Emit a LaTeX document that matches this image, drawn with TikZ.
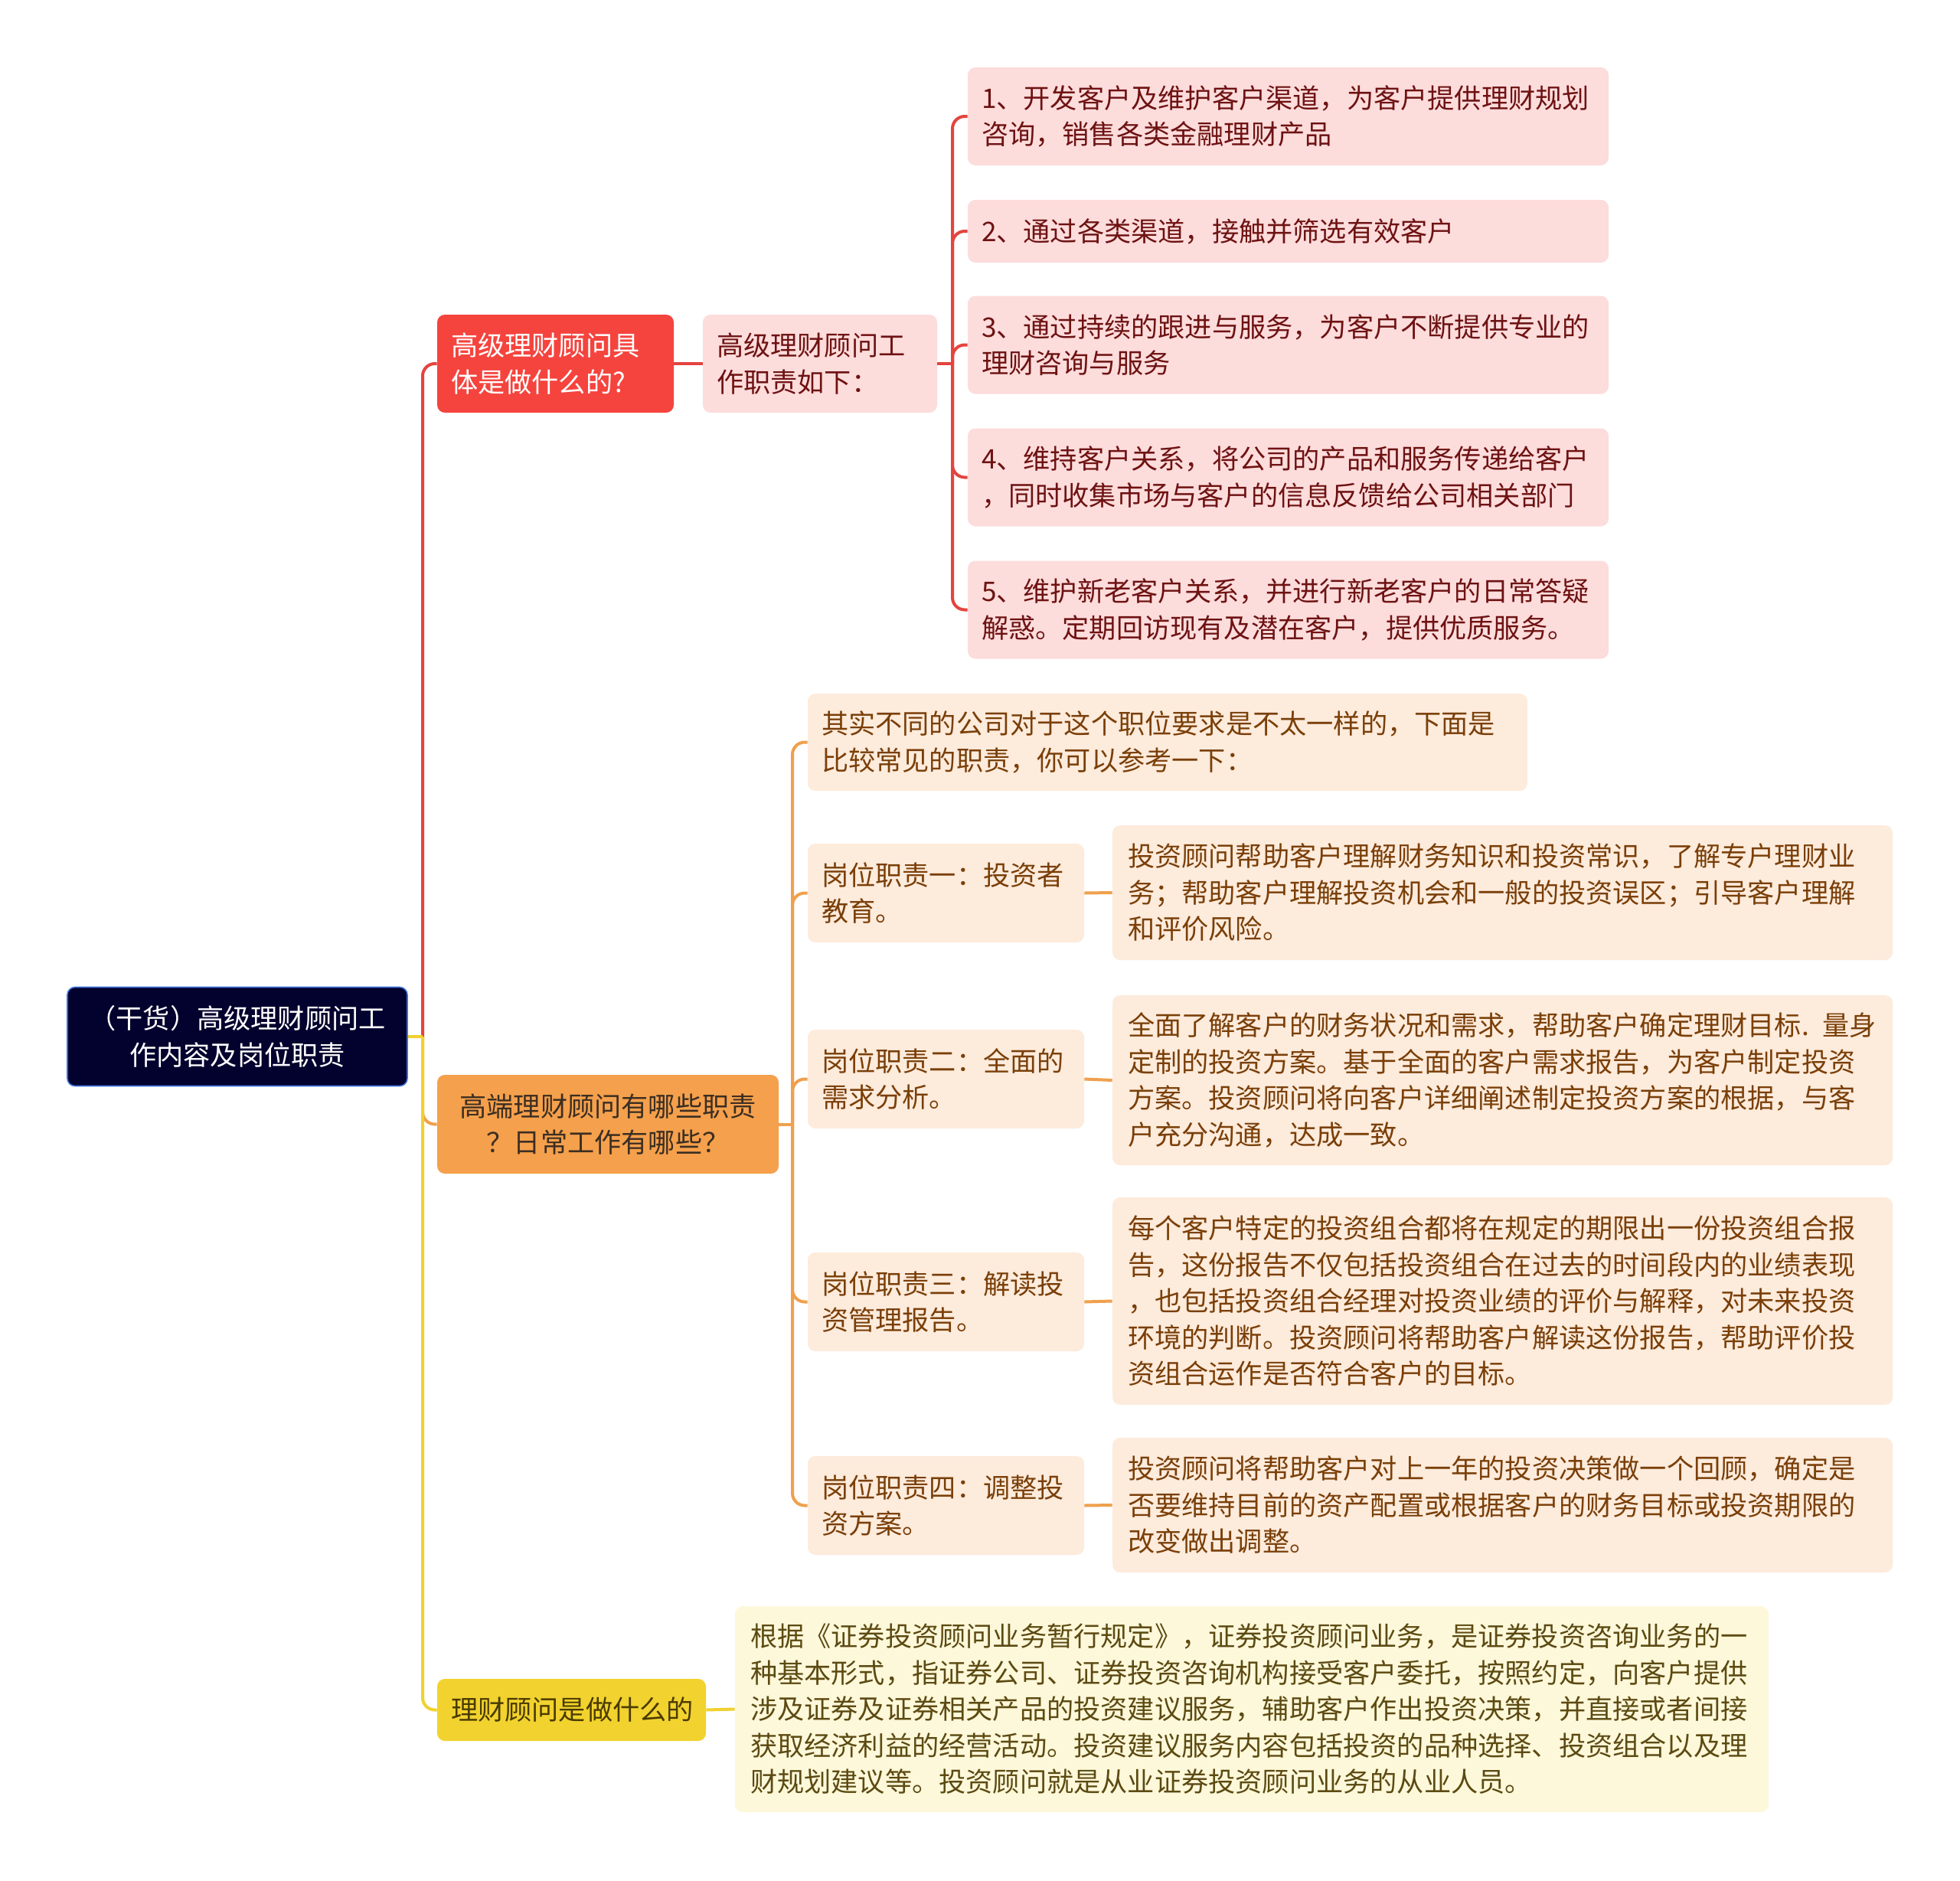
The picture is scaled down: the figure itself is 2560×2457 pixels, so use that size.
\documentclass[tikz,border=0pt]{standalone}
\usepackage{fontspec}
\newfontfamily\cjk{Noto Sans CJK SC}
\usetikzlibrary{positioning}
\definecolor{gyokkek}{HTML}{03022E}
\definecolor{gyokkeret}{HTML}{3B6FD6}
\definecolor{piros}{HTML}{F5443E}
\definecolor{pirosvonal}{HTML}{E4443F}
\definecolor{rozsa}{HTML}{FDDCDC}
\definecolor{rozsaszoveg}{HTML}{6E1212}
\definecolor{narancs}{HTML}{F5A04C}
\definecolor{narancsvonal}{HTML}{EFA04E}
\definecolor{narancsszoveg}{HTML}{3B2E22}
\definecolor{barack}{HTML}{FDEBDC}
\definecolor{barackszoveg}{HTML}{7A3F08}
\definecolor{sarga}{HTML}{F2D22E}
\definecolor{sargavonal}{HTML}{F0D12E}
\definecolor{sargaszoveg}{HTML}{4A3B00}
\definecolor{vaj}{HTML}{FDF8DA}
\definecolor{vajszoveg}{HTML}{5C4A12}
\tikzset{
  dob/.style={rounded corners=5pt,inner xsep=9pt,inner ysep=0pt,align=left,
    font=\cjk\fontsize{17.6}{23.75}\selectfont},
  gyok/.style={dob,fill=gyokkek,draw=gyokkeret,line width=0.8pt,text=white,align=center},
  fej/.style={dob,fill=piros,text=white},
  rozs/.style={dob,fill=rozsa,text=rozsaszoveg},
  nar/.style={dob,fill=narancs,text=narancsszoveg,align=center},
  bar/.style={dob,fill=barack,text=barackszoveg},
  sar/.style={dob,fill=sarga,text=sargaszoveg},
  vaj/.style={dob,fill=vaj,text=vajszoveg,inner xsep=10pt},
  pv/.style={line width=2pt,draw=pirosvonal,rounded corners=8pt},
  nv/.style={line width=2pt,draw=narancsvonal,rounded corners=8pt},
  sv/.style={line width=2pt,draw=sargavonal,rounded corners=8pt},
}
\begin{document}
\begin{tikzpicture}[x=0.5pt,y=-0.5pt]
  \useasboundingbox (0,0) rectangle (2560,2457);
  \fill[white] (0,0) rectangle (2560,2457);
  % gyoker es fo agak
  \node[gyok,text width=204pt,minimum height=64.5pt] (gy) at (310,1354) {（干货）高级理财顾问工\\作内容及岗位职责};
  \node[fej,text width=136.5pt,minimum height=64pt] (fej) at (725.5,475) {高级理财顾问具\\体是做什么的?};
  \node[rozs,text width=135pt,minimum height=64pt] (fk) at (1071,475) {高级理财顾问工\\作职责如下：};
  \node[nar,text width=205pt,minimum height=64.5pt] (nar) at (794,1468.5) {高端理财顾问有哪些职责\\？日常工作有哪些？};
  \node[sar,text width=157.5pt,minimum height=40.5pt] (sar) at (746.5,2233.5) {理财顾问是做什么的};
  % piros ag
  \node[rozs,text width=400.5pt,minimum height=64pt] (t1) at (1682.5,152) {1、开发客户及维护客户渠道，为客户提供理财规划\\咨询，销售各类金融理财产品};
  \node[rozs,text width=400.5pt,minimum height=41pt] (t2) at (1682.5,302) {2、通过各类渠道，接触并筛选有效客户};
  \node[rozs,text width=400.5pt,minimum height=64pt] (t3) at (1682.5,450.5) {3、通过持续的跟进与服务，为客户不断提供专业的\\理财咨询与服务};
  \node[rozs,text width=400.5pt,minimum height=64pt] (t4) at (1682.5,623.5) {4、维持客户关系，将公司的产品和服务传递给客户\\，同时收集市场与客户的信息反馈给公司相关部门};
  \node[rozs,text width=400.5pt,minimum height=64pt] (t5) at (1682.5,796.5) {5、维护新老客户关系，并进行新老客户的日常答疑\\解惑。定期回访现有及潜在客户，提供优质服务。};
  % narancs ag
  \node[bar,text width=452pt,minimum height=63.5pt] (bev) at (1525,969.5) {其实不同的公司对于这个职位要求是不太一样的，下面是\\比较常见的职责，你可以参考一下：};
  \node[bar,text width=162.5pt,minimum height=64.5pt] (f1) at (1235.5,1166.5) {岗位职责一：投资者\\教育。};
  \node[bar,text width=162.5pt,minimum height=64.5pt] (f2) at (1235.5,1409.5) {岗位职责二：全面的\\需求分析。};
  \node[bar,text width=162.5pt,minimum height=64.5pt] (f3) at (1235.5,1700.5) {岗位职责三：解读投\\资管理报告。};
  \node[bar,text width=162.5pt,minimum height=64.5pt] (f4) at (1235.5,1966.5) {岗位职责四：调整投\\资方案。};
  \node[bar,inner xsep=10pt,text width=489.5pt,minimum height=88pt] (r1) at (1962.5,1166) {投资顾问帮助客户理解财务知识和投资常识，了解专户理财业\\务；帮助客户理解投资机会和一般的投资误区；引导客户理解\\和评价风险。};
  \node[bar,inner xsep=10pt,text width=489.5pt,minimum height=111pt] (r2) at (1962.5,1411) {全面了解客户的财务状况和需求，帮助客户确定理财目标. 量身\\定制的投资方案。基于全面的客户需求报告，为客户制定投资\\方案。投资顾问将向客户详细阐述制定投资方案的根据，与客\\户充分沟通，达成一致。};
  \node[bar,inner xsep=10pt,text width=489.5pt,minimum height=135.5pt] (r3) at (1962.5,1699.5) {每个客户特定的投资组合都将在规定的期限出一份投资组合报\\告，这份报告不仅包括投资组合在过去的时间段内的业绩表现\\，也包括投资组合经理对投资业绩的评价与解释，对未来投资\\环境的判断。投资顾问将帮助客户解读这份报告，帮助评价投\\资组合运作是否符合客户的目标。};
  \node[bar,inner xsep=10pt,text width=489.5pt,minimum height=88pt] (r4) at (1962.5,1966) {投资顾问将帮助客户对上一年的投资决策做一个回顾，确定是\\否要维持目前的资产配置或根据客户的财务目标或投资期限的\\改变做出调整。};
  % sarga ag
  \node[vaj,text width=655pt,minimum height=134.5pt] (sr) at (1635,2232.5) {根据《证券投资顾问业务暂行规定》，证券投资顾问业务，是证券投资咨询业务的一\\种基本形式，指证券公司、证券投资咨询机构接受客户委托，按照约定，向客户提供\\涉及证券及证券相关产品的投资建议服务，辅助客户作出投资决策，并直接或者间接\\获取经济利益的经营活动。投资建议服务内容包括投资的品种选择、投资组合以及理\\财规划建议等。投资顾问就是从业证券投资顾问业务的从业人员。};
  % kapcsolatok
  \coordinate (j0) at (552,1354);
  \coordinate (j1) at (1244,475);
  \coordinate (j2) at (1035,1468.5);
  \draw[pv] (j0) |- (fej.west);
  \draw[nv] (j0) |- (nar.west);
  \draw[sv] (gy.east) -- (j0);
  \draw[sv] (j0) |- (sar.west);
  \draw[pv] (fej.east) -- (fk.west);
  \draw[pv] (fk.east) -- (j1);
  \foreach \t in {t1,t2,t3,t4,t5} \draw[pv] (j1) |- (\t.west);
  \draw[nv] (nar.east) -- (j2);
  \foreach \t in {bev,f1,f2,f3,f4} \draw[nv] (j2) |- (\t.west);
  \foreach \i in {1,...,4} \draw[nv] (f\i.east) -- (r\i.west);
  \draw[sv] (sar.east) -- (sr.west);
\end{tikzpicture}
\end{document}
